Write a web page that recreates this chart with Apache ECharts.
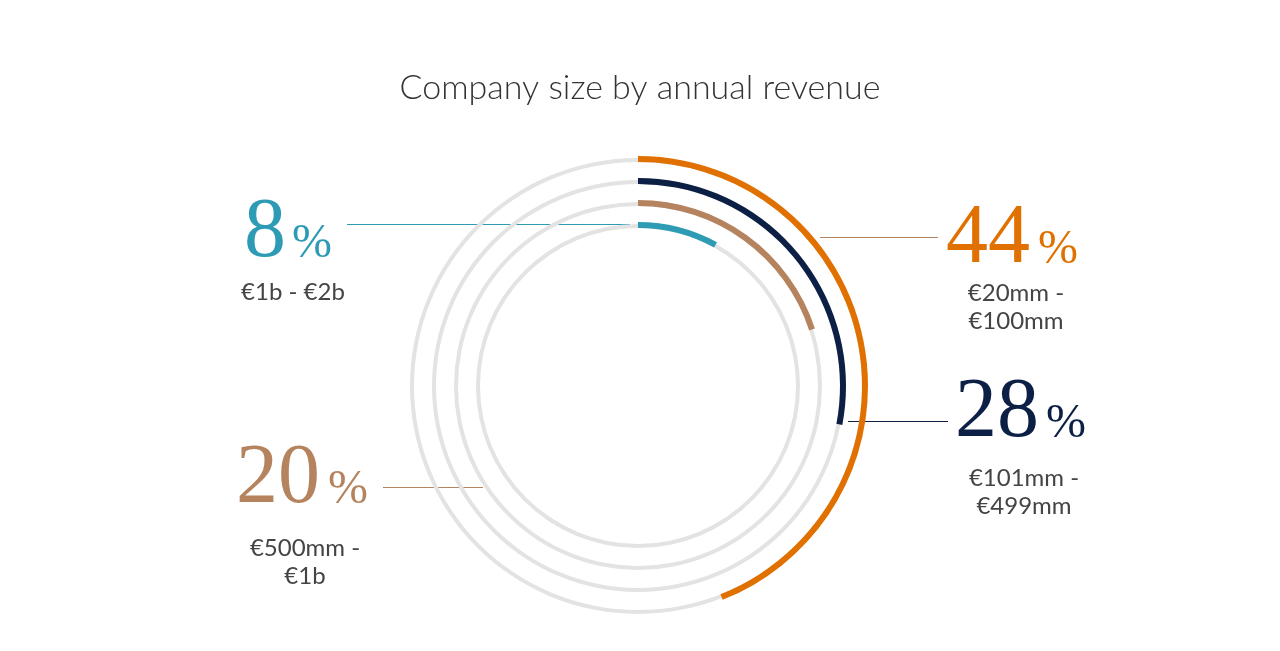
<!DOCTYPE html>
<html><head><meta charset="utf-8">
<script src="https://cdn.jsdelivr.net/npm/echarts@6/dist/echarts.min.js"></script>
<style>html,body{margin:0;background:#fff}#c{width:1280px;height:651px}</style>
</head><body><div id="c"></div>
<script>
// inner ring first
var categories = ['€1b - €2b', '€500mm - €1b', '€101mm - €499mm', '€20mm - €100mm'];
var values = [8, 20, 28, 44];
var colors = ['#2e9bb5', '#b5845f', '#0c1f45', '#e07000'];
var track = [100, 100, 100, 100];

var chart = echarts.init(document.getElementById('c'));
var sans = 'Lato, "Open Sans", sans-serif';
var serif = '"Liberation Serif", "DejaVu Serif", serif';

function pct(x, y, num, col, pctX) {
	return [
		{type:'text', x:x, y:y, style:{text:num, font:'84px ' + serif, fill:col, verticalAlign:'bottom'}},
		{type:'text', x:pctX, y:y - 8, style:{text:'%', font:'48px ' + serif, fill:col, verticalAlign:'bottom'}}
	];
}
function sub(cx, y, txt) {
	return {type:'text', x:cx, y:y, style:{text:txt, font:'24px ' + sans, fill:'#444', align:'center', lineHeight:28}};
}
function line(x1, y1, x2, col) {
	return {type:'line', shape:{x1:x1, y1:y1 + 0.5, x2:x2, y2:y1 + 0.5}, style:{stroke:col, lineWidth:1}};
}

var g = [];
g = g.concat(pct(244, 276, '8', colors[0], 292));
g.push(sub(293, 278, '€1b - €2b'), line(347, 224, 630, colors[0]));
g = g.concat(pct(946, 282, '44', colors[3], 1038));
g.push(sub(1016, 279, '€20mm -\n€100mm'), line(820, 237, 938, colors[1]));
g = g.concat(pct(955, 456, '28', colors[2], 1046));
g.push(sub(1024, 464, '€101mm -\n€499mm'), line(848, 421, 948, colors[2]));
g = g.concat(pct(236, 522, '20', colors[1], 328));
g.push(sub(305, 534, '€500mm -\n€1b'), line(383, 487, 483, colors[1]));

chart.setOption({
	title: {text:'Company size by annual revenue', left:'center', top:66,
		textStyle:{fontFamily:sans, fontWeight:300, fontSize:34, color:'#333'}},
	polar: {center:[638, 386], radius:[150, 238]},
	angleAxis: {max:100, startAngle:90, clockwise:true, show:false},
	radiusAxis: {type:'category', data:categories, show:false},
	series: [
		{type:'bar', coordinateSystem:'polar', data:track, barWidth:4, barGap:'-100%',
			itemStyle:{color:'#e3e3e3'}, silent:true, z:1},
		{type:'bar', coordinateSystem:'polar', barWidth:6, barGap:'-100%', z:2,
			data: values.map(function(v, i){ return {value:v, itemStyle:{color:colors[i]}}; })}
	],
	graphic: g
});
</script></body></html>
